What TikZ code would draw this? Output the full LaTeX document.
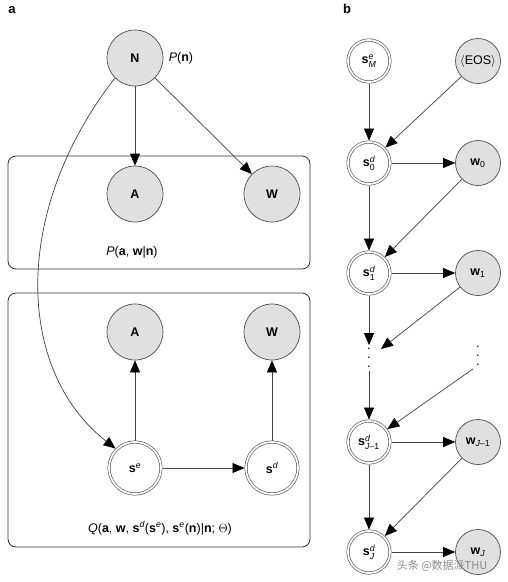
\documentclass[tikz,border=0pt]{standalone}
\usepackage{amsmath}
\usepackage{fontspec}
\setmainfont{Liberation Sans}
\newfontfamily\cjk{Noto Sans CJK SC}
\usetikzlibrary{arrows.meta, calc}

\tikzset{
	obs/.style={circle, draw=black!70, line width=0.7pt, fill=black!12, minimum size=#1, inner sep=0pt},
	obs/.default=56pt,
	hid/.style={circle, draw=black!70, line width=0.6pt, double, double distance=1.8pt, fill=white, minimum size=#1, inner sep=0pt, outer sep=1.5pt},
	hid/.default=52pt,
	plate/.style={draw=black!80, line width=0.8pt, rounded corners=8pt},
	edge/.style={draw=black!75, line width=0.7pt, -{Triangle[length=12pt, width=10pt, color=black]}},
	dots/.style={font=\fontsize{13}{9}\selectfont, align=center, inner sep=3pt},
	bold/.style={font=\bfseries\fontsize{12.5}{15}\selectfont},
}

\begin{document}
\begin{tikzpicture}[x=1pt, y=-1pt, font=\fontsize{12.5}{15}\selectfont]
	\useasboundingbox (0,0) rectangle (507,582);
	% panel a
	\node [font=\bfseries\fontsize{13}{15}\selectfont] (la) at (12,10) {a};
	\draw [plate] (8,156) rectangle (310,269);
	\draw [plate] (8,293) rectangle (310,547);
	\node [obs, bold] (N) at (135,58) {N};
	\node [obs, bold] (A) at (135,194) {A};
	\node [obs, bold] (W) at (272,194) {W};
	\node [obs, bold] (Aq) at (135,332) {A};
	\node [obs, bold] (Wq) at (272,332) {W};
	\node [hid] (Se) at (135,468) {\textbf{s}$^{\textit{e}}$};
	\node [hid] (Sd) at (272,468) {\textbf{s}$^{\textit{d}}$};
	\node (Pn) at (181,58) {\textit{P}(\textbf{n})};
	\node (Pawn) at (132,252) {\textit{P}(\textbf{a}, \textbf{w}|\textbf{n})};
	\node (Q) at (160,528) {\textit{Q}(\textbf{a}, \textbf{w}, \textbf{s}$^{\textit{d}}$(\textbf{s}$^{\textit{e}}$), \textbf{s}$^{\textit{e}}$(\textbf{n})|\textbf{n}; $\Theta$)};
	\draw [edge] (N) -- (A);
	\draw [edge] (N) -- (W);
	\draw [edge] (N.225) .. controls (12,210) and (15,370) .. (Se.135);
	\draw [edge] (Se) -- (Aq);
	\draw [edge] (Sd) -- (Wq);
	\draw [edge] (Se) -- (Sd);
	% panel b
	\node [font=\bfseries\fontsize{13}{15}\selectfont] (lb) at (347,9) {b};
	\node [hid=42pt] (SM) at (369,61) {\textbf{s}$^{\textit{e}}_{\textit{M}}$};
	\node [obs=45pt] (EOS) at (478,61) {$\langle$EOS$\rangle$};
	\node [hid=42pt] (S0) at (369,163) {\textbf{s}$^{\textit{d}}_{\text{0}}$};
	\node [obs=45pt] (W0) at (478,163) {\textbf{w}$_{\text{0}}$};
	\node [hid=42pt] (S1) at (369,273) {\textbf{s}$^{\textit{d}}_{\text{1}}$};
	\node [obs=45pt] (W1) at (478,273) {\textbf{w}$_{\text{1}}$};
	\node [dots] (D1) at (369,358) {.\\.\\.};
	\node [dots] (D2) at (478,356) {.\\.\\.};
	\coordinate (D1in) at (381,349);
	\node [hid=42pt] (SJm) at (369,442) {\textbf{s}$^{\textit{d}}_{\textit{J}\text{--1}}$};
	\node [obs=45pt] (WJm) at (478,442) {\textbf{w}$_{\textit{J}\text{--1}}$};
	\node [hid=42pt] (SJ) at (369,552) {\textbf{s}$^{\textit{d}}_{\textit{J}}$};
	\node [obs=45pt] (WJ) at (478,552) {\textbf{w}$_{\textit{J}}$};
	\draw [edge] (SM) -- (S0);
	\draw [edge] (EOS) -- (S0);
	\draw [edge] (S0) -- (W0);
	\draw [edge] (S0) -- (S1);
	\draw [edge] (W0) -- (S1);
	\draw [edge] (S1) -- (W1);
	\draw [edge] (S1) -- (D1.north);
	\draw [edge] (W1) -- (D1in);
	\draw [edge] (D1.south) -- (SJm);
	\draw [edge] (D2.south west) -- (SJm);
	\draw [edge] (SJm) -- (WJm);
	\draw [edge] (SJm) -- (SJ);
	\draw [edge] (WJm) -- (SJ);
	\draw [edge] (SJ) -- (WJ);
	% watermark
	\node [font=\cjk\fontsize{11}{13}\selectfont, text=black!45] (mark) at (442,566) {头条 @数据派THU};
\end{tikzpicture}
\end{document}
